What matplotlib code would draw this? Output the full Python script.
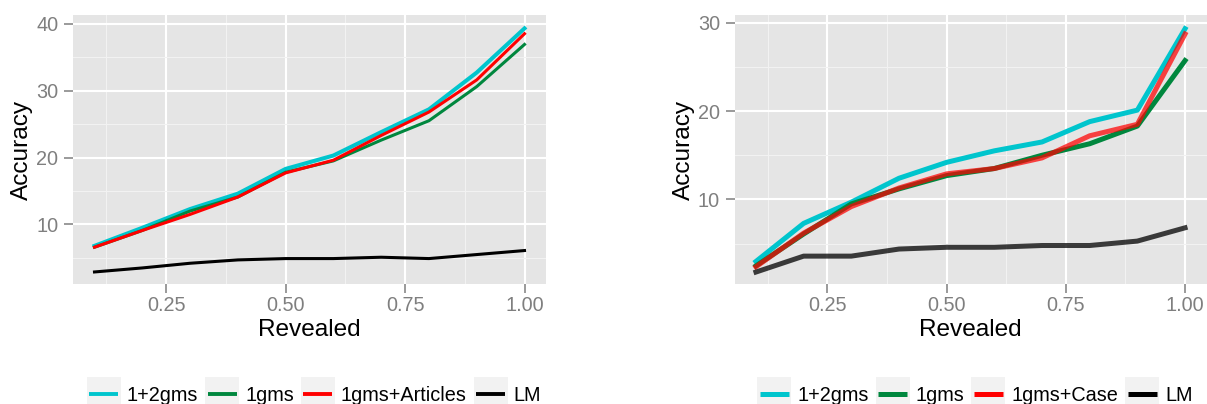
import matplotlib
matplotlib.use("Agg")
import matplotlib.pyplot as plt
from matplotlib.patches import Rectangle
from matplotlib.lines import Line2D

plt.rcParams['font.family'] = ['Liberation Sans', 'DejaVu Sans']

# ---- data -------------------------------------------------------------
revealed = [0.1, 0.2, 0.3, 0.4, 0.5, 0.6, 0.7, 0.8, 0.9, 1.0]

# left panel: articles experiment
left_12gms = [6.8, 9.5, 12.3, 14.6, 18.3, 20.3, 23.8, 27.2, 32.7, 39.3]
left_1gms = [6.6, 9.1, 12.0, 14.1, 17.8, 19.5, 22.6, 25.5, 30.6, 36.9]
left_1gms_articles = [6.6, 9.1, 11.5, 14.1, 17.7, 19.6, 23.3, 26.8, 31.6, 38.5]
left_lm = [2.9, 3.5, 4.2, 4.7, 4.9, 4.9, 5.1, 4.9, 5.5, 6.1]

# right panel: case experiment
right_12gms = [3.0, 7.3, 9.7, 12.4, 14.2, 15.5, 16.5, 18.8, 20.1, 29.3]
right_1gms = [2.5, 6.1, 9.5, 11.2, 12.7, 13.5, 15.0, 16.3, 18.3, 25.7]
right_1gms_case = [2.4, 6.2, 9.2, 11.3, 12.9, 13.5, 14.7, 17.2, 18.5, 28.7]
right_lm = [1.8, 3.6, 3.6, 4.4, 4.6, 4.6, 4.8, 4.8, 5.3, 6.8]

left_labels = ["1+2gms", "1gms", "1gms+Articles", "LM"]
right_labels = ["1+2gms", "1gms", "1gms+Case", "LM"]

x_ticks = [0.25, 0.50, 0.75, 1.00]
x_tick_labels = ["0.25", "0.50", "0.75", "1.00"]
x_minor = [0.125, 0.375, 0.625, 0.875]
left_y_ticks = [10, 20, 30, 40]
left_y_minor = [5, 15, 25, 35]
right_y_ticks = [10, 20, 30]
right_y_minor = [5, 15, 25]

colors = ["#00C5CD", "#00873E", "#FF0000", "#000000"]
right_alphas = [1.0, 1.0, 0.72, 0.75]

# ---- figure -----------------------------------------------------------
W, H = 1207, 404
fig = plt.figure(figsize=(W / 100, H / 100), dpi=100)


def axes_px(x0, y0, x1, y1):
    """Create axes from pixel box measured from the top-left corner."""
    return fig.add_axes([x0 / W, 1 - y1 / H, (x1 - x0) / W, (y1 - y0) / H])


def style(ax, yticks, yminor, ylim):
    ax.set_facecolor("#E5E5E5")
    for s in ax.spines.values():
        s.set_visible(False)
    ax.set_xlim(0.055, 1.045)
    ax.set_ylim(*ylim)
    ax.set_xticks(x_ticks)
    ax.set_xticklabels(x_tick_labels)
    ax.set_xticks(x_minor, minor=True)
    ax.set_yticks(yticks)
    ax.set_yticks(yminor, minor=True)
    ax.grid(which="major", color="white", lw=1.5)
    ax.grid(which="minor", color="#F2F2F2", lw=0.75)
    ax.set_axisbelow(True)
    ax.tick_params(which="minor", length=0)
    ax.tick_params(which="major", length=6.5, width=1.1, color="#7F7F7F",
                   labelsize=14.3, labelcolor="#7F7F7F")
    ax.tick_params(axis="x", pad=2)
    ax.tick_params(axis="y", pad=4)
    ax.set_xlabel("Revealed", fontsize=17.6, va="center")
    ax.set_ylabel("Accuracy", fontsize=17.6, va="center")
    ax.xaxis.set_label_coords(0.5, -0.171)
    ax.yaxis.set_label_coords(-0.108, 0.5)


def draw_legend(labels, lw, center_x):
    renderer = fig.canvas.get_renderer()
    fs = 14.3
    key_w, text_gap, item_gap = 34, 6, 7
    key_top, key_bottom, yc, baseline = 377, 410, 393.5, 401
    widths = []
    for lab in labels:
        t = fig.text(0, 0, lab, fontsize=fs)
        widths.append(t.get_window_extent(renderer).width)
        t.remove()
    total = sum(key_w + text_gap + w for w in widths) + item_gap * (len(labels) - 1)
    x = center_x - total / 2
    for lab, col, w in zip(labels, colors, widths):
        fig.add_artist(Rectangle((x / W, 1 - key_bottom / H), key_w / W,
                                 (key_bottom - key_top) / H,
                                 transform=fig.transFigure,
                                 facecolor="#F2F2F2", edgecolor="none"))
        fig.add_artist(Line2D([(x + 2.5) / W, (x + key_w - 2.5) / W],
                              [1 - yc / H, 1 - yc / H],
                              transform=fig.transFigure, color=col, lw=lw,
                              solid_capstyle="butt"))
        fig.text((x + key_w + text_gap) / W, 1 - baseline / H, lab,
                 fontsize=fs, va="baseline", ha="left", color="black")
        x += key_w + text_gap + w + item_gap


# left panel
axl = axes_px(73, 15, 546, 284)
style(axl, left_y_ticks, left_y_minor, (1.1, 41.3))
axl.plot(revealed, left_12gms, color=colors[0], lw=2.9)
axl.plot(revealed, left_1gms, color=colors[1], lw=2.2)
axl.plot(revealed, left_1gms_articles, color=colors[2], lw=2.2)
axl.plot(revealed, left_lm, color=colors[3], lw=2.2)

# right panel
axr = axes_px(734.5, 15, 1206.5, 284)
style(axr, right_y_ticks, right_y_minor, (0.45, 30.85))
for series, col, a in zip([right_12gms, right_1gms, right_1gms_case, right_lm],
                          colors, right_alphas):
    axr.plot(revealed, series, color=col, lw=3.6, alpha=a)

draw_legend(left_labels, 2.8, 314)
draw_legend(right_labels, 3.6, 975)

fig.savefig("out.png", dpi=100)
